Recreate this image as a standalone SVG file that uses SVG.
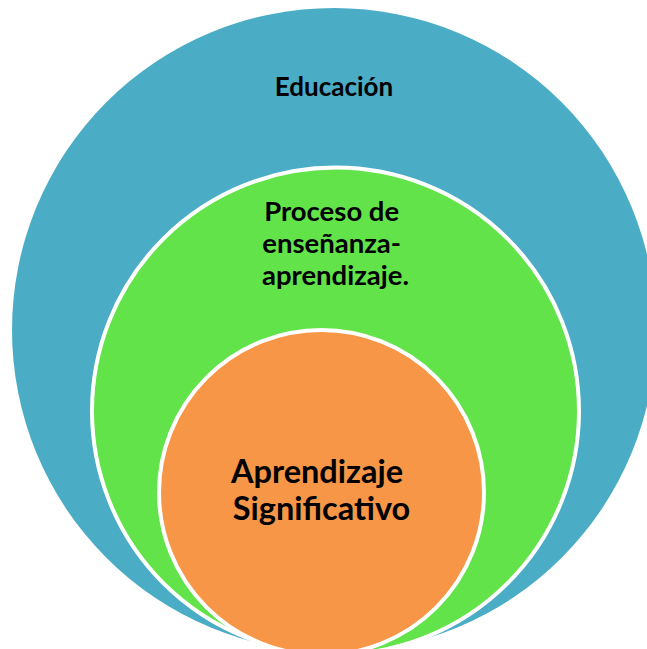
<svg xmlns="http://www.w3.org/2000/svg" width="647" height="649" viewBox="0 0 647 649">
  <style>
    .lbl { font-family: Lato, "Open Sans", "Liberation Sans", sans-serif; font-weight: 700; fill: #000000; text-anchor: middle; }
    .ring { stroke: #FFFFFF; stroke-width: 4; }
  </style>
  <rect x="0" y="0" width="647" height="649" fill="#FFFFFF"/>
  <g id="educacion">
    <circle cx="334" cy="330" r="322" fill="#4BACC6"/>
    <text class="lbl" x="334" y="95.5" font-size="26">Educación</text>
  </g>
  <g id="proceso">
    <circle class="ring" cx="335.5" cy="411" r="243.5" fill="#62E349"/>
    <text class="lbl" font-size="27.5">
      <tspan x="335" y="221">Proceso de</tspan>
      <tspan x="335" y="253">enseñanza-</tspan>
      <tspan x="335.5" y="285">aprendizaje.</tspan>
    </text>
  </g>
  <g id="aprendizaje">
    <circle class="ring" cx="321.5" cy="492.5" r="162.5" fill="#F79646"/>
    <text class="lbl" font-size="32.5">
      <tspan x="321" y="483">Aprendizaje</tspan>
      <tspan x="321.5" y="520">Significativo</tspan>
    </text>
  </g>
  <g id="connectors"/>
</svg>
